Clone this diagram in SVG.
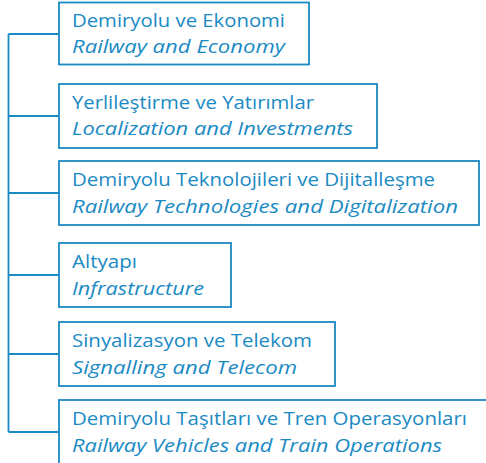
<svg xmlns="http://www.w3.org/2000/svg" width="486" height="463" viewBox="0 0 486 463">
<style>
.box{fill:#fff;stroke:#1a8ac4;stroke-width:1.8}
.con{fill:none;stroke:#1a8ac4;stroke-width:1.8}
text{font-family:"Open Sans","Liberation Sans",sans-serif;font-size:19px;fill:#1a8ac4}
.en{font-style:italic}
</style>
<rect width="486" height="463" fill="#fff"/>
<g id="connectors">
<path class="con" d="M8.5 34V432M8.5 34H59M8.5 116H59M8.5 193H59M8.5 275H59M8.5 354H59M8.5 432H59"/>
</g>
<g id="n1"><rect class="box" x="59" y="2.5" width="250" height="62"/>
<text x="72" y="27" textLength="213" lengthAdjust="spacingAndGlyphs">Demiryolu ve Ekonomi</text>
<text class="en" x="72" y="53" textLength="213" lengthAdjust="spacingAndGlyphs">Railway and Economy</text></g>
<g id="n2"><rect class="box" x="59" y="84" width="318" height="64"/>
<text x="72" y="109" textLength="242" lengthAdjust="spacingAndGlyphs">Yerlileştirme ve Yatırımlar</text>
<text class="en" x="72" y="135" textLength="281" lengthAdjust="spacingAndGlyphs">Localization and Investments</text></g>
<g id="n3"><rect class="box" x="59" y="161" width="420" height="64"/>
<text x="72" y="186" textLength="363" lengthAdjust="spacingAndGlyphs">Demiryolu Teknolojileri ve Dijitalleşme</text>
<text class="en" x="72" y="213" textLength="386" lengthAdjust="spacingAndGlyphs">Railway Technologies and Digitalization</text></g>
<g id="n4"><rect class="box" x="59" y="243" width="172" height="64"/>
<text x="72" y="268" textLength="65" lengthAdjust="spacingAndGlyphs">Altyapı</text>
<text class="en" x="72" y="295" textLength="132" lengthAdjust="spacingAndGlyphs">Infrastructure</text></g>
<g id="n5"><rect class="box" x="59" y="322" width="276" height="64"/>
<text x="72" y="347" textLength="240" lengthAdjust="spacingAndGlyphs">Sinyalizasyon ve Telekom</text>
<text class="en" x="72" y="374" textLength="225" lengthAdjust="spacingAndGlyphs">Signalling and Telecom</text></g>
<g id="n6"><rect class="box" x="59" y="400" width="440" height="80"/>
<text x="72" y="425" textLength="395" lengthAdjust="spacingAndGlyphs">Demiryolu Taşıtları ve Tren Operasyonları</text>
<text class="en" x="72" y="452" textLength="370" lengthAdjust="spacingAndGlyphs">Railway Vehicles and Train Operations</text></g>
</svg>
